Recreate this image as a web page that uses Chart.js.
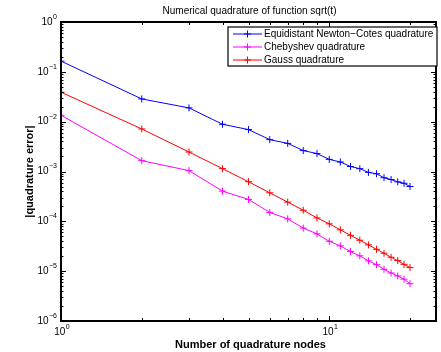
<!DOCTYPE html>
<html>
<head>
<meta charset="utf-8">
<script src="https://cdn.jsdelivr.net/npm/chart.js@4"></script>
<style>
  html, body { margin: 0; padding: 0; background: #fff; }
  #wrap { width: 441px; height: 352px; }
</style>
</head>
<body>
<div id="wrap"><canvas id="quad-chart" width="441" height="352"></canvas></div>
<script>
// number of nodes n = 1..20
const nodes = [1, 2, 3, 4, 5, 6, 7, 8, 9, 10, 11, 12, 13, 14, 15, 16, 17, 18, 19, 20];

const newtonCotesErr = [0.164, 0.0286, 0.0189, 0.00887, 0.00693, 0.00436, 0.00367, 0.00263, 0.00229, 0.00175,
    0.00155, 0.00126, 0.00114, 0.00096, 0.00090, 0.00075, 0.00069, 0.00062, 0.00058, 0.00050];
const chebyshevErr = [0.01345, 0.00165, 0.00104, 0.000404, 0.000275, 0.000151, 0.000112, 7.33e-5, 5.6e-5, 3.98e-5,
    3.22e-5, 2.47e-5, 2.03e-5, 1.61e-5, 1.35e-5, 1.09e-5, 9.2e-6, 8.0e-6, 6.9e-6, 5.6e-6];
const gaussErr = [0.039, 0.00714, 0.00246, 0.00114, 0.000623, 0.000374, 0.000243, 0.000167, 0.000117, 8.91e-5,
    6.76e-5, 5.25e-5, 4.17e-5, 3.37e-5, 2.75e-5, 2.29e-5, 1.9e-5, 1.63e-5, 1.37e-5, 1.18e-5];

const seriesNames = ['Equidistant Newton\u2212Cotes quadrature', 'Chebyshev quadrature', 'Gauss quadrature'];
const seriesColors = ['#0000ff', '#ff00ff', '#ff0000'];

const xMajor = [1, 10];
const xMinor = [2, 3, 4, 5, 6, 7, 8, 9, 20];
const yExponents = [0, -1, -2, -3, -4, -5, -6];

const chartTitle = 'Numerical quadrature of function sqrt(t)';
const xTitle = 'Number of quadrature nodes';
const yTitle = '|quadrature error|';

const FONT = '"Liberation Sans", Arial, Helvetica, sans-serif';

function toPoints(values) {
    return values.map((v, i) => ({ x: nodes[i], y: v }));
}

function makeDataset(idx, values) {
    return {
        label: seriesNames[idx],
        data: toPoints(values),
        borderColor: seriesColors[idx],
        backgroundColor: seriesColors[idx],
        borderWidth: 1,
        pointStyle: 'cross',
        pointRadius: 3.5,
        pointBorderWidth: 1,
        tension: 0,
        fill: false
    };
}

// draws "10" with a raised exponent, anchored by align
function drawPower(ctx, exp, x, y, align) {
    const base = '10';
    const sup = exp < 0 ? '\u2212' + Math.abs(exp) : String(exp);
    ctx.font = '10px ' + FONT;
    const wb = ctx.measureText(base).width;
    ctx.font = '7px ' + FONT;
    const ws = ctx.measureText(sup).width;
    const total = wb + ws + 0.5;
    let x0 = x;
    if (align === 'center') x0 = x - total / 2;
    if (align === 'right') x0 = x - total;
    ctx.textAlign = 'left';
    ctx.textBaseline = 'middle';
    ctx.font = '10px ' + FONT;
    ctx.fillText(base, x0, y);
    ctx.font = '7px ' + FONT;
    ctx.fillText(sup, x0 + wb + 0.5, y - 5);
}

const axesPlugin = {
    id: 'matlabAxes',
    afterDraw(chart) {
        const ctx = chart.ctx;
        const area = chart.chartArea;
        const xs = chart.scales.x;
        const ys = chart.scales.y;
        ctx.save();
        ctx.fillStyle = '#000';
        ctx.strokeStyle = '#000';

        // inward ticks on all four sides
        ctx.lineWidth = 1;
        ctx.beginPath();
        const xTicks = xMajor.map(v => [v, 5]).concat(xMinor.map(v => [v, 3]));
        xTicks.forEach(([v, len]) => {
            const px = Math.round(xs.getPixelForValue(v)) + 0.5;
            ctx.moveTo(px, area.bottom);
            ctx.lineTo(px, area.bottom - len);
            ctx.moveTo(px, area.top);
            ctx.lineTo(px, area.top + len);
        });
        yExponents.forEach(e => {
            for (let k = 1; k <= 9; k++) {
                const v = k * Math.pow(10, e);
                if (v > 1.0001) break;
                const len = k === 1 ? 5 : 2.5;
                const py = Math.round(ys.getPixelForValue(v)) + 0.5;
                ctx.moveTo(area.left, py);
                ctx.lineTo(area.left + len, py);
                ctx.moveTo(area.right, py);
                ctx.lineTo(area.right - len, py);
            }
        });
        ctx.stroke();

        // box
        ctx.lineWidth = 2;
        ctx.strokeRect(area.left, area.top, area.right - area.left, area.bottom - area.top);

        // tick labels
        xMajor.forEach((v, i) => {
            drawPower(ctx, i, xs.getPixelForValue(v) + 1, area.bottom + 11, 'center');
        });
        yExponents.forEach(e => {
            drawPower(ctx, e, area.left - 4, ys.getPixelForValue(Math.pow(10, e)), 'right');
        });

        // axis titles
        ctx.font = 'bold 11px ' + FONT;
        ctx.textAlign = 'center';
        ctx.textBaseline = 'middle';
        ctx.fillText(xTitle, (area.left + area.right) / 2 + 2, 345);
        ctx.save();
        ctx.translate(30, (area.top + area.bottom) / 2);
        ctx.rotate(-Math.PI / 2);
        ctx.fillText(yTitle, 0, 0);
        ctx.restore();

        // legend box in the upper right corner
        const lx = 228, ly = 27, lw = 209, lh = 39;
        ctx.fillStyle = '#fff';
        ctx.fillRect(lx, ly, lw, lh);
        ctx.lineWidth = 1.2;
        ctx.strokeStyle = '#000';
        ctx.strokeRect(lx, ly, lw, lh);
        chart.data.datasets.forEach((ds, i) => {
            const yy = ly + 7 + i * 13;
            ctx.strokeStyle = ds.borderColor;
            ctx.lineWidth = 1;
            ctx.beginPath();
            ctx.moveTo(lx + 5, yy);
            ctx.lineTo(lx + 34, yy);
            ctx.moveTo(lx + 19.5, yy - 3.5);
            ctx.lineTo(lx + 19.5, yy + 3.5);
            ctx.moveTo(lx + 16, yy);
            ctx.lineTo(lx + 23, yy);
            ctx.stroke();
            ctx.fillStyle = '#000';
            ctx.font = '10px ' + FONT;
            ctx.textAlign = 'left';
            ctx.textBaseline = 'middle';
            ctx.fillText(ds.label, lx + 36, yy);
        });
        ctx.restore();
    }
};

new Chart(document.getElementById('quad-chart'), {
    type: 'line',
    data: {
        datasets: [
            makeDataset(0, newtonCotesErr),
            makeDataset(1, chebyshevErr),
            makeDataset(2, gaussErr)
        ]
    },
    options: {
        responsive: false,
        animation: false,
        layout: { padding: { left: 61, right: 3, top: 0, bottom: 31 } },
        scales: {
            x: { type: 'logarithmic', min: 1, max: 25, display: false },
            y: { type: 'logarithmic', min: 1e-6, max: 1, display: false }
        },
        plugins: {
            legend: { display: false },
            tooltip: { enabled: false },
            title: {
                display: true,
                text: chartTitle,
                color: '#000',
                font: { family: FONT, size: 10, weight: 'normal' },
                padding: { top: 5, bottom: 5 }
            }
        }
    },
    plugins: [axesPlugin]
});
</script>
</body>
</html>
